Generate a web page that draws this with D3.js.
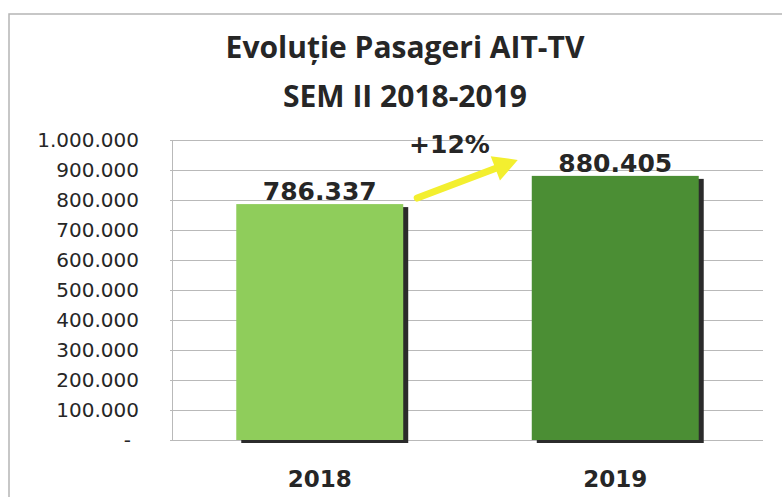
<!doctype html>
<html lang="ro">
<head>
	<meta charset="UTF-8">
	<title>Evoluție Pasageri AIT-TV</title>
	<style>
		html, body {
			margin: 0;
			padding: 0;
			background: #fff;
		}
		svg text {
			fill: #262626;
		}
		.title {
			font-family: "Open Sans", sans-serif;
			font-weight: 700;
			font-size: 30px;
			text-anchor: middle;
		}
		.tick-label {
			font-family: "DejaVu Sans", Verdana, sans-serif;
			font-size: 20px;
			text-anchor: end;
		}
		.cat-label {
			font-family: "DejaVu Sans", Verdana, sans-serif;
			font-weight: 700;
			font-size: 23px;
			text-anchor: middle;
		}
		.value-label {
			font-family: "DejaVu Sans", Verdana, sans-serif;
			font-weight: 700;
			font-size: 25px;
			text-anchor: middle;
		}
	</style>
</head>
<body>
	<script src="https://cdn.jsdelivr.net/npm/d3@7"></script>
	<script>
		// data
		var categories = ['2018', '2019'];
		var passengers = [786337, 880405];
		var barColors = ['#8fcd5b', '#4b8e34'];
		var yTicks = [0, 100000, 200000, 300000, 400000, 500000, 600000, 700000, 800000, 900000, 1000000];
		var titleLines = ['Evoluție Pasageri AIT-TV', 'SEM II 2018-2019'];

		var w = 782,
			h = 497,
			plot = {left: 172, right: 763, top: 140, bottom: 440};

		// romanian style number format: 786.337
		var ro = d3.formatLocale({decimal: ',', thousands: '.', grouping: [3], currency: ['', '']});
		var fmt = ro.format(',d');

		var svg = d3.select('body')
			.append('svg')
			.attr('width', w)
			.attr('height', h);

		var xScale = d3.scaleBand()
			.domain(categories)
			.range([plot.left, plot.right])
			.paddingInner(0.435)
			.paddingOuter(0.2175);

		var yScale = d3.scaleLinear()
			.domain([0, 1000000])
			.range([plot.bottom, plot.top]);

		// outer frame (only top and left visible in the scan)
		svg.append('path')
			.attr('d', 'M9,' + h + 'V14H' + w)
			.attr('fill', 'none')
			.attr('stroke', '#b5b5b5')
			.attr('stroke-width', 1.5);

		// title
		svg.selectAll('.title')
			.data(titleLines)
			.enter()
			.append('text')
			.attr('class', 'title')
			.attr('x', 405)
			.attr('y', function(d, i) { return 58 + i * 49; })
			.text(function(d) { return d; });

		// gridlines
		svg.append('g')
			.selectAll('line')
			.data(yTicks)
			.enter()
			.append('line')
			.attr('x1', plot.left - 2)
			.attr('x2', plot.right)
			.attr('y1', function(d) { return Math.round(yScale(d)) + 0.5; })
			.attr('y2', function(d) { return Math.round(yScale(d)) + 0.5; })
			.attr('stroke', '#b9b9b9')
			.attr('stroke-width', 1);

		// y axis line
		svg.append('line')
			.attr('x1', plot.left + 0.5)
			.attr('x2', plot.left + 0.5)
			.attr('y1', plot.top)
			.attr('y2', plot.bottom)
			.attr('stroke', '#b9b9b9');

		// y tick labels
		svg.append('g')
			.selectAll('text')
			.data(yTicks)
			.enter()
			.append('text')
			.attr('class', 'tick-label')
			.attr('x', function(d) { return d === 0 ? 131 : 139; })
			.attr('y', function(d) { return yScale(d); })
			.attr('dy', '0.36em')
			.text(function(d) { return d === 0 ? '-' : fmt(d); });

		var bars = svg.append('g')
			.selectAll('g')
			.data(passengers)
			.enter()
			.append('g');

		// dark drop shadow behind each bar
		bars.append('rect')
			.attr('x', function(d, i) { return xScale(categories[i]) + 5; })
			.attr('y', function(d) { return yScale(d) + 3; })
			.attr('width', xScale.bandwidth())
			.attr('height', function(d) { return plot.bottom - yScale(d); })
			.attr('fill', '#2b2b2b');

		bars.append('rect')
			.attr('x', function(d, i) { return xScale(categories[i]); })
			.attr('y', function(d) { return yScale(d); })
			.attr('width', xScale.bandwidth())
			.attr('height', function(d) { return plot.bottom - yScale(d); })
			.attr('fill', function(d, i) { return barColors[i]; });

		// value labels
		bars.append('text')
			.attr('class', 'value-label')
			.attr('x', function(d, i) { return xScale(categories[i]) + xScale.bandwidth() / 2; })
			.attr('y', function(d) { return yScale(d) - 4; })
			.text(function(d) { return fmt(d); });

		// category labels
		svg.append('g')
			.selectAll('text')
			.data(categories)
			.enter()
			.append('text')
			.attr('class', 'cat-label')
			.attr('x', function(d) { return xScale(d) + xScale.bandwidth() / 2; })
			.attr('y', 487)
			.text(function(d) { return d; });

		// growth arrow between the two bars
		var x0 = xScale(categories[0]) + xScale.bandwidth() + 14,
			y0 = yScale(passengers[0]) - 6,
			x1 = xScale(categories[1]) - 14,
			y1 = yScale(passengers[1]) - 16;
		var ang = Math.atan2(y1 - y0, x1 - x0),
			headLen = 24,
			headHalf = 13;
		var bx = x1 - headLen * Math.cos(ang),
			by = y1 - headLen * Math.sin(ang);
		var nx = -Math.sin(ang),
			ny = Math.cos(ang);

		svg.append('line')
			.attr('x1', x0)
			.attr('y1', y0)
			.attr('x2', bx + 2 * Math.cos(ang))
			.attr('y2', by + 2 * Math.sin(ang))
			.attr('stroke', '#f3ef2f')
			.attr('stroke-width', 7)
			.attr('stroke-linecap', 'round');

		svg.append('path')
			.attr('d', 'M' + x1 + ',' + y1 +
				'L' + (bx + nx * headHalf) + ',' + (by + ny * headHalf) +
				'L' + (bx - nx * headHalf) + ',' + (by - ny * headHalf) + 'Z')
			.attr('fill', '#f3ef2f');

		var growth = Math.round((passengers[1] / passengers[0] - 1) * 100);
		svg.append('text')
			.attr('class', 'value-label')
			.attr('x', (x0 + x1) / 2 - 18)
			.attr('y', 153)
			.text('+' + growth + '%');
	</script>
</body>
</html>
